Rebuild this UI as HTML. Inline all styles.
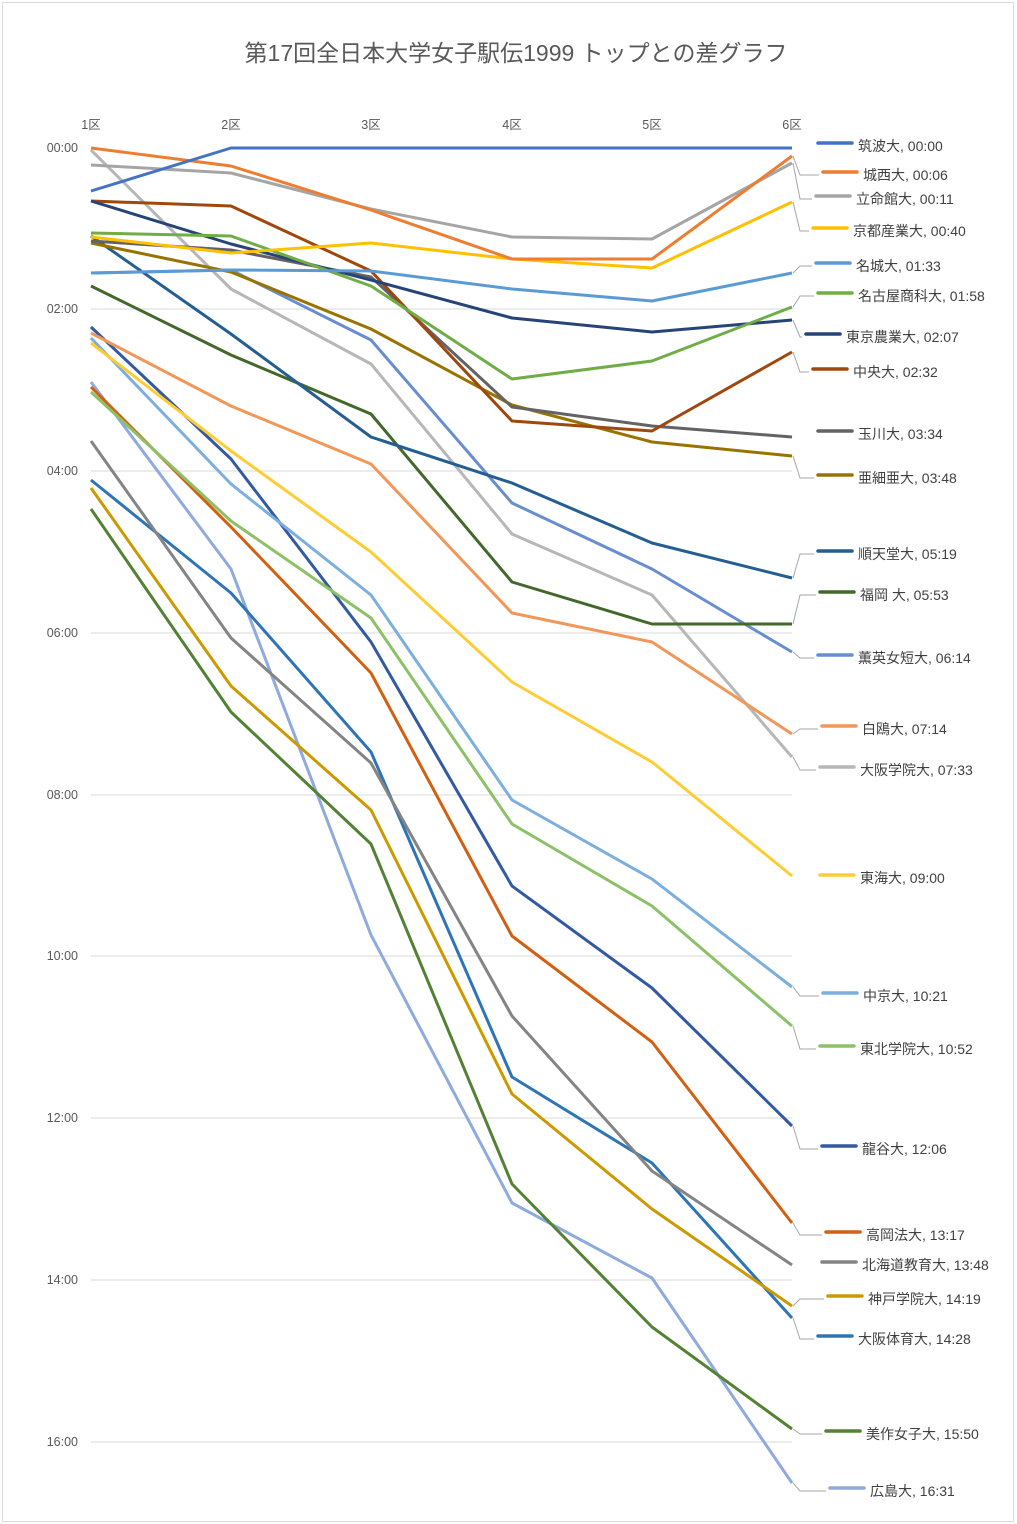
<!DOCTYPE html>
<html><head><meta charset="utf-8"><style>
html,body{margin:0;padding:0;background:#fff;}
svg{display:block;font-family:"Liberation Sans","Noto Sans CJK JP",sans-serif;}
</style></head><body>
<svg id="s" width="1017" height="1524" viewBox="0 0 1017 1524" xmlns="http://www.w3.org/2000/svg">
<rect x="2.5" y="2.5" width="1011" height="1519" fill="#fff" stroke="#d9d9d9"/>
<text x="516" y="61" font-size="23" fill="#595959" text-anchor="middle">第17回全日本大学女子駅伝1999 トップとの差グラフ</text>
<g id="grid" stroke="#d9d9d9" stroke-width="1"></g>
<g id="lab" font-size="12.5" fill="#595959"></g>
<g id="ser" fill="none" stroke-width="3" stroke-linejoin="round"></g>
<g id="leg" font-size="14" fill="#404040"></g>
</svg>
<script>
var NS="http://www.w3.org/2000/svg";
function el(p,t,a,txt){var e=document.createElementNS(NS,t);for(var k in a)e.setAttribute(k,a[k]);if(txt)e.textContent=txt;document.getElementById(p).appendChild(e);return e;}
var X=[91,231,371,512,652,792];
var G=[148,309,471,633,795,956,1118,1280,1442],GL=["00:00","02:00","04:00","06:00","08:00","10:00","12:00","14:00","16:00"];
G.forEach(function(y,i){if(i>0)el("grid","line",{x1:91,x2:792,y1:y,y2:y});el("lab","text",{x:78,y:y+4,"text-anchor":"end"},GL[i]);});
X.forEach(function(x,i){el("lab","text",{x:x,y:129,"text-anchor":"middle"},(i+1)+"区");});
var S=[
["筑波大, 00:00","#4472C4",[191,148,148,148,148,148],146,818],
["城西大, 00:06","#ED7D31",[148,166,210,259,259,156],175,823],
["立命館大, 00:11","#A5A5A5",[165,173,209,237,239,163],199,816],
["京都産業大, 00:40","#FFC000",[237,253,243,259,268,202],231,813],
["名城大, 01:33","#5B9BD5",[273,270,271,289,301,273],266,816],
["名古屋商科大, 01:58","#70AD47",[233,236,286,379,361,307],296,818],
["東京農業大, 02:07","#264478",[201,244,280,318,332,320],337,806],
["中央大, 02:32","#9E480E",[201,206,271,421,431,352],372,813],
["玉川大, 03:34","#636363",[241,250,277,407,426,437],434,818],
["亜細亜大, 03:48","#997300",[243,272,329,405,442,456],478,818],
["順天堂大, 05:19","#255E91",[236,334,437,483,543,578],554,818],
["福岡 大, 05:53","#43682B",[286,355,414,582,624,624],595,820],
["薫英女短大, 06:14","#698ED0",[273,270,340,503,569,652],658,818],
["白鴎大, 07:14","#F1975A",[333,406,464,613,642,734],729,822],
["大阪学院大, 07:33","#B7B7B7",[150,289,364,534,595,757],770,820],
["東海大, 09:00","#FFCD33",[343,451,552,682,762,876],878,820],
["中京大, 10:21","#7CAFDD",[338,484,595,800,879,987],996,823],
["東北学院大, 10:52","#8CC168",[392,521,618,824,906,1026],1049,820],
["龍谷大, 12:06","#335AA1",[327,459,642,886,988,1126],1149,822],
["高岡法大, 13:17","#D26012",[387,527,673,936,1042,1223],1235,826],
["北海道教育大, 13:48","#848484",[441,638,763,1016,1171,1265],1265,822],
["神戸学院大, 14:19","#CC9A00",[488,686,810,1094,1209,1306],1299,828],
["大阪体育大, 14:28","#2E75B6",[480,593,752,1077,1163,1318],1339,818],
["美作女子大, 15:50","#548235",[509,712,844,1184,1327,1429],1434,826],
["広島大, 16:31","#8FAADC",[382,569,935,1203,1278,1483],1491,830]
];
S.slice().reverse().forEach(function(s){
  el("ser","polyline",{points:s[2].map(function(y,i){return X[i]+","+y;}).join(" "),stroke:s[1]});
});
S.forEach(function(s){
  var ye=s[2][5],yl=s[3],mx=s[4];
  if(Math.abs(ye-yl)>4){el("leg","polyline",{points:"793,"+ye+" 800,"+yl+" "+(mx-4)+","+yl,fill:"none",stroke:"#a6a6a6","stroke-width":1});}
  el("leg","line",{x1:mx,x2:mx+34,y1:yl-3,y2:yl-3,stroke:s[1],"stroke-width":3.5,"stroke-linecap":"round"});
  el("leg","text",{x:mx+40,y:yl+5},s[0]);
});
</script>
</body></html>
